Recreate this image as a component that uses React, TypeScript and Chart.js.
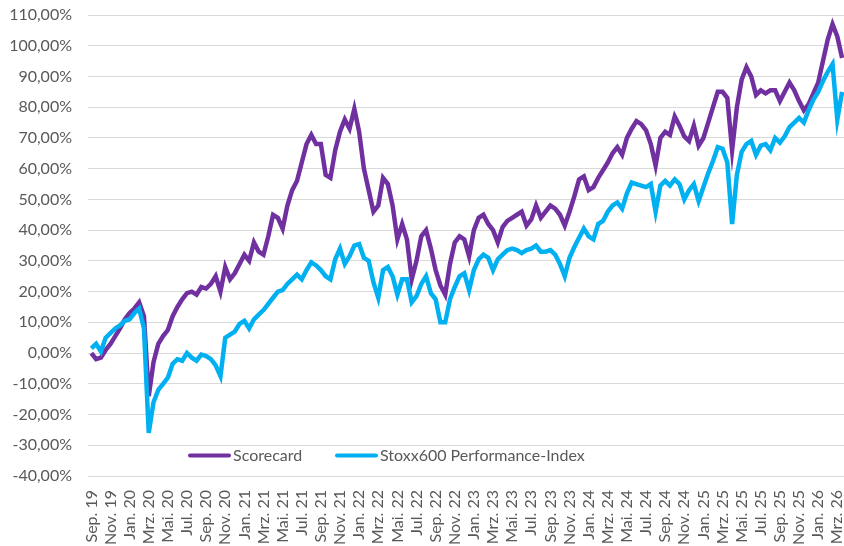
import { useEffect, useRef } from "react";
import { Chart, registerables } from "chart.js";

Chart.register(...registerables);

// x-axis tick labels, one every two months (Sep 2019 .. Mar 2026)
const tickLabels = [
  "Sep. 19", "Nov. 19", "Jan. 20", "Mrz. 20", "Mai. 20", "Jul. 20", "Sep. 20", "Nov. 20",
  "Jan. 21", "Mrz. 21", "Mai. 21", "Jul. 21", "Sep. 21", "Nov. 21",
  "Jan. 22", "Mrz. 22", "Mai. 22", "Jul. 22", "Sep. 22", "Nov. 22",
  "Jan. 23", "Mrz. 23", "Mai. 23", "Jul. 23", "Sep. 23", "Nov. 23",
  "Jan. 24", "Mrz. 24", "Mai. 24", "Jul. 24", "Sep. 24", "Nov. 24",
  "Jan. 25", "Mrz. 25", "Mai. 25", "Jul. 25", "Sep. 25", "Nov. 25",
  "Jan. 26", "Mrz. 26",
];

const seriesNames = ["Scorecard", "Stoxx600 Performance-Index"];
const seriesColors = ["#7030A0", "#00B0F0"];

// semi-monthly values (%), starting Sep 2019
const scorecard = [
  0, -2, -1.5, 1, 3, 5.5, 8, 11, 13, 14.5, 16.5, 12,
  -14, -3, 3, 5.5, 7.5, 12, 15, 17.5, 19.5, 20, 19, 21.5,
  21, 22.5, 25, 20, 28, 24, 26, 29, 32, 30, 36, 33,
  32, 38, 45, 44, 40.5, 48, 53, 56, 62, 68, 71, 68,
  68, 58, 57, 66, 72, 76, 73, 79.5, 72, 60, 53, 46,
  48, 57, 55, 48, 37, 42, 37, 24, 30, 38, 40, 34,
  27, 22, 19, 29, 36, 38, 37, 31.5, 40, 44, 45, 42,
  40, 36, 41, 43, 44, 45, 46, 41.5, 43.5, 48, 44, 46,
  48, 47, 45, 41.5, 46, 51, 56.5, 57.5, 53, 54, 57, 59.5,
  62, 65, 67, 64.5, 70, 73, 75.5, 74.5, 72.5, 68, 61, 70,
  72, 71, 77, 74, 70.5, 69, 74, 67.5, 70, 75, 80, 85,
  85, 83, 66, 80, 89, 93, 90, 84, 85.5, 84.5, 85.5, 85.5,
  82, 85, 88, 85.5, 82, 79, 81, 84.5, 88, 95, 102, 107,
  103, 96,
];

const stoxx600 = [
  1.5, 3, 0.5, 5, 6.5, 8, 9, 10.5, 11, 13, 14.5, 8,
  -26, -16, -12, -10, -8, -3.5, -2, -2.5, 0, -1.5, -2.5, -0.5,
  -1, -2, -4, -7.5, 5, 6, 7, 9.5, 10.5, 8, 11, 12.5,
  14, 16, 18, 20, 20.5, 22.5, 24, 25.5, 24, 27, 29.5, 28.5,
  27, 25, 24, 30.5, 34, 29, 31.5, 35, 35.5, 31, 30, 23,
  18, 27, 28, 25, 19, 24, 24, 16.5, 18.5, 22.5, 25, 19.5,
  17.5, 10, 10, 17.5, 21.5, 25, 26, 20.5, 27, 30.5, 32, 31,
  27, 30.5, 32, 33.5, 34, 33.5, 32.5, 33.5, 34, 35, 33, 33,
  33.5, 32, 29, 25, 31, 34.5, 37.5, 40.5, 38, 37, 42, 43,
  46, 48, 49, 47, 52, 55.5, 55, 54.5, 54, 55, 46, 54.5,
  56, 54.5, 56.5, 55, 50, 53, 55, 49.5, 54, 58.5, 62.5, 67,
  66.5, 62, 42, 58, 65.5, 68, 69, 64.5, 67.5, 68, 66, 70,
  68.5, 70.5, 73.5, 75, 76.5, 75, 79, 82.5, 85, 88.5, 91.5, 94,
  76, 85,
];

const yMin = -40;
const yMax = 110;
const yStep = 10;

const FONT = "Lato, 'Open Sans', sans-serif";
const TEXT = "#595959";

export default function App() {
  const ref = useRef<HTMLCanvasElement>(null);

  useEffect(() => {
    if (!ref.current) return;
    const toPoints = (arr: number[]) => arr.map((v, i) => ({ x: i / 2, y: v }));

    const legendPlugin = {
      id: "inlineLegend",
      afterDraw(chart: any) {
        const { ctx } = chart;
        const ys = chart.scales.y;
        const left = chart.chartArea.left;
        const y = ys.getPixelForValue(-33.3);
        const starts = [left + 100, left + 247];
        ctx.save();
        ctx.font = `16px ${FONT}`;
        ctx.textBaseline = "middle";
        ctx.textAlign = "left";
        seriesNames.forEach((name, k) => {
          const x0 = starts[k];
          ctx.strokeStyle = seriesColors[k];
          ctx.lineWidth = 4;
          ctx.lineCap = "round";
          ctx.beginPath();
          ctx.moveTo(x0 + 2, y);
          ctx.lineTo(x0 + 41, y);
          ctx.stroke();
          ctx.fillStyle = TEXT;
          ctx.fillText(name, x0 + 45, y);
        });
        ctx.restore();
      },
    };

    const chart = new Chart(ref.current, {
      type: "line",
      data: {
        datasets: [
          {
            label: seriesNames[0],
            data: toPoints(scorecard),
            borderColor: seriesColors[0],
            backgroundColor: seriesColors[0],
            borderWidth: 4.5,
            pointRadius: 0,
            tension: 0,
            order: 2,
          },
          {
            label: seriesNames[1],
            data: toPoints(stoxx600),
            borderColor: seriesColors[1],
            backgroundColor: seriesColors[1],
            borderWidth: 4.5,
            pointRadius: 0,
            tension: 0,
            order: 1,
          },
        ],
      },
      options: {
        animation: false,
        responsive: true,
        maintainAspectRatio: false,
        layout: { padding: { top: 15, right: 0, left: 0, bottom: 0 } },
        plugins: {
          legend: { display: false },
          tooltip: { enabled: false },
        },
        scales: {
          x: {
            type: "linear",
            min: -0.35,
            max: 78.7,
            grid: { display: false },
            border: { display: false },
            afterBuildTicks: (axis: any) => {
              axis.ticks = tickLabels.map((_, k) => ({ value: 2 * k }));
            },
            afterFit: (s: any) => {
              s.height = 70;
              s.paddingLeft = 0;
              s.paddingRight = 0;
            },
            ticks: {
              autoSkip: false,
              maxRotation: 90,
              minRotation: 90,
              padding: 6,
              color: TEXT,
              font: { family: FONT, size: 16 },
              callback: (v: any) => tickLabels[Math.round(Number(v) / 2)] ?? "",
            },
          },
          y: {
            min: yMin,
            max: yMax,
            afterFit: (s: any) => {
              s.width = 88;
              s.paddingTop = 0;
              s.paddingBottom = 0;
            },
            grid: { color: "#D9D9D9", lineWidth: 1, drawTicks: false },
            border: { display: false },
            ticks: {
              stepSize: yStep,
              padding: 16,
              color: TEXT,
              font: { family: FONT, size: 16 },
              callback: (v: any) => Number(v).toFixed(2).replace(".", ",") + "%",
            },
          },
        },
      },
      plugins: [legendPlugin],
    } as any);
    return () => chart.destroy();
  }, []);

  return (
    <div style={{ position: "fixed", left: 0, top: 0, width: 844, height: 546, background: "#fff" }}>
      <canvas ref={ref} />
    </div>
  );
}
